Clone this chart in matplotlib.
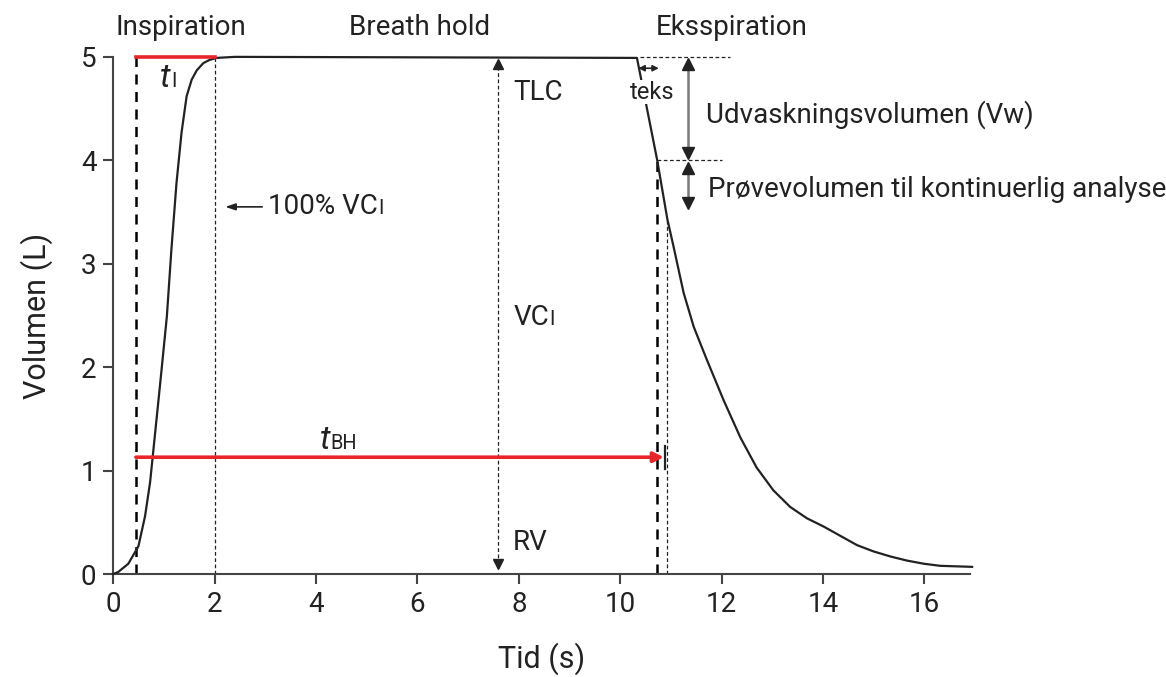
import numpy as np
import matplotlib
matplotlib.use("Agg")
import matplotlib.pyplot as plt

plt.rcParams['font.family'] = ['Roboto', 'DejaVu Sans']

# volume curve
tid = [0, 0.1, 0.3, 0.5, 0.63, 0.73, 0.83, 0.93, 1.06, 1.15, 1.25, 1.35, 1.45, 1.55,
       1.65, 1.78, 1.9, 2.04, 2.4, 10.33, 10.73, 10.93, 11.05, 11.25, 11.45,
       11.71, 12.04, 12.37, 12.69, 13.02, 13.35, 13.68, 14.01, 14.34, 14.67, 14.99,
       15.33, 15.66, 15.99, 16.31, 16.94]
volumen = [0, 0.02, 0.1, 0.27, 0.56, 0.89, 1.37, 1.85, 2.49, 3.14, 3.78, 4.27, 4.62, 4.78,
           4.87, 4.94, 4.97, 4.99, 5.0, 4.99, 4.0, 3.43, 3.17, 2.72, 2.39,
           2.07, 1.68, 1.32, 1.03, 0.81, 0.65, 0.54, 0.46, 0.37, 0.28, 0.22,
           0.17, 0.13, 0.10, 0.08, 0.07]

x_ticks = [0, 2, 4, 6, 8, 10, 12, 14, 16]
y_ticks = [0, 1, 2, 3, 4, 5]

t_start = 0.45      # start of inspiration
t_insp_end = 2.0    # 100% VCi
t_exp = 10.72       # start of sampling
t_teks = 10.93
t_bh_end = 10.86
y_bh = 1.13
vw_top, vw_bot, sample_bot = 5.0, 4.0, 3.52
x_vc = 7.59

red = '#e8262a'
ink = '#222222'
grey = '#7a7a7a'

fig, ax = plt.subplots(figsize=(11.66, 6.77), dpi=100)
fig.subplots_adjust(left=0.097, right=0.832, bottom=0.152, top=0.916)

ax.plot(tid, volumen, color=ink, lw=1.6, clip_on=False, zorder=3)

# reference lines
ax.plot([t_start, t_start], [0, 5], color='black', lw=1.8, ls=(0, (4, 3)), clip_on=False)
ax.plot([t_exp, t_exp], [0, 4], color='black', lw=1.8, ls=(0, (4, 3)), clip_on=False)
ax.plot([t_insp_end, t_insp_end], [0, 5], color=ink, lw=0.9, ls=(0, (3, 2)), clip_on=False)
ax.plot([t_teks, t_teks], [0, 3.43], color=ink, lw=0.9, ls=(0, (3, 2)), clip_on=False)
ax.plot([10.4, 12.17], [5, 5], color=ink, lw=0.9, ls=(0, (3, 2)), clip_on=False)
ax.plot([10.73, 12.0], [4, 4], color=ink, lw=0.9, ls=(0, (3, 2)), clip_on=False)

# red t_I line and t_BH arrow
ax.plot([t_start, t_insp_end], [5, 5], color=red, lw=2.6, clip_on=False, zorder=4)
ax.annotate('', xy=(t_bh_end, y_bh), xytext=(t_start, y_bh),
            arrowprops=dict(arrowstyle='-|>,head_length=0.6,head_width=0.3',
                            color=red, lw=2.6, shrinkA=0, shrinkB=0))
ax.plot([t_bh_end + 0.02, t_bh_end + 0.02], [1.02, 1.24], color=ink, lw=1.6)

# VC double arrow (dotted)
ax.plot([x_vc, x_vc], [0.1, 4.93], color=ink, lw=0.9, ls=(0, (3, 2)))
ax.plot([x_vc], [4.93], marker='^', color=ink, ms=7)
ax.plot([x_vc], [0.1], marker='v', color=ink, ms=7)

# Vw and sample arrows
for y0, y1 in [(vw_top, vw_bot), (vw_bot, sample_bot)]:
    ax.plot([11.34, 11.34], [y0 - 0.05, y1 + 0.05], color=grey, lw=1.8)
    ax.plot([11.34], [y0 - 0.07], marker='^', color=ink, ms=8)
    ax.plot([11.34], [y1 + 0.07], marker='v', color=ink, ms=8)

# teks small double arrow
ax.annotate('', xy=(10.36, 4.89), xytext=(10.76, 4.89),
            arrowprops=dict(arrowstyle='<|-|>,head_length=0.35,head_width=0.18',
                            color=ink, lw=1.2, shrinkA=0, shrinkB=0))
ax.text(10.63, 4.66, 'teks', fontsize=17, color=ink, ha='center', va='center', zorder=5,
        bbox=dict(facecolor='white', edgecolor='none', pad=0.5))

# 100% VCi arrow
ax.annotate('', xy=(2.21, 3.55), xytext=(2.94, 3.55),
            arrowprops=dict(arrowstyle='-|>,head_length=0.6,head_width=0.2',
                            color=ink, lw=1.2, shrinkA=0, shrinkB=0))


def label(x, y, main, sub, size=20, italic=False):
    t = ax.text(x, y, main, fontsize=size + (4 if italic else 0), color=ink,
                ha='left', va='center', style='italic' if italic else 'normal')
    if sub:
        ax.annotate(sub, xy=(1, 0.08), xycoords=t, fontsize=size * 0.72,
                    color=ink, ha='left', va='bottom')


label(3.06, 3.55, '100% VC', 'I')
label(7.89, 4.66, 'TLC', '')
label(7.89, 2.48, 'VC', 'I')
label(7.89, 0.31, 'RV', '')
label(0.93, 4.8, 't', 'I', italic=True)
label(4.08, 1.30, 't', 'BH', italic=True)
label(11.70, 4.44, 'Udvaskningsvolumen (Vw)', '')
label(11.73, 3.72, 'Prøvevolumen til kontinuerlig analyse', '')

for x, s in [(1.34, 'Inspiration'), (6.05, 'Breath hold'), (12.19, 'Eksspiration')]:
    ax.text(x, 5.28, s, fontsize=20, color=ink, ha='center', va='center')

ax.set_xlim(0, 16.9)
ax.set_ylim(0, 5)
ax.set_xticks(x_ticks)
ax.set_yticks(y_ticks)
for side in ['top', 'right']:
    ax.spines[side].set_visible(False)
for side in ['left', 'bottom']:
    ax.spines[side].set_color('#444444')
    ax.spines[side].set_linewidth(1.5)
ax.tick_params(length=7, width=1.5, color='#444444', labelsize=20, labelcolor=ink, pad=5)
ax.set_xlabel('Tid (s)', fontsize=22, color=ink, labelpad=18)
ax.set_ylabel('Volumen (L)', fontsize=22, color=ink, labelpad=20)

fig.savefig('out.png', dpi=100)
